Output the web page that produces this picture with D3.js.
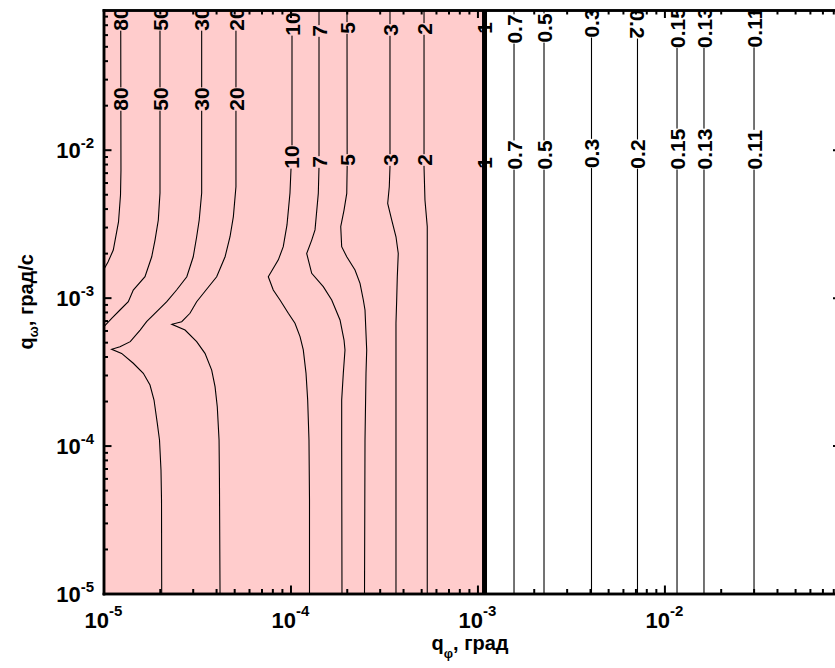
<!DOCTYPE html>
<html>
<head>
<meta charset="utf-8">
<script src="https://cdn.jsdelivr.net/npm/d3@7"></script>
<style>
  body { margin: 0; background: #fff; }
  svg { display: block; }
  text { font-family: "Liberation Sans", Arial, sans-serif; font-weight: bold; fill: #000; }
</style>
</head>
<body>
<div id="chart"></div>
<script>
// Contour lines of the error level over (q_phi, q_omega), both in log scale.
// Each line is a list of [q_phi, q_omega] points, from the top of the plot downwards.
const line80 = [[1.236e-5,0.088],[1.24e-5,7.29e-3],[1.233e-5,4.94e-3],[1.203e-5,3.25e-3],[1.128e-5,2.1e-3],[1.057e-5,1.74e-3],[1.0e-5,1.54e-3]];
const line50 = [[2.005e-5,0.088],[2.005e-5,5.1e-3],[1.964e-5,3.35e-3],[1.886e-5,2.45e-3],[1.811e-5,1.89e-3],[1.667e-5,1.385e-3],[1.443e-5,1.126e-3],[1.357e-5,9.39e-4],[1.225e-5,8.25e-4],[1.106e-5,7.25e-4],[1.0e-5,6.33e-4]];
const line30 = [[3.35e-5,0.088],[3.35e-5,5.1e-3],[3.25e-5,3.35e-3],[3.15e-5,2.58e-3],[3.02e-5,1.89e-3],[2.79e-5,1.385e-3],[2.46e-5,1.126e-3],[2.18e-5,9.39e-4],[2.005e-5,8.47e-4],[1.70e-5,6.88e-4],[1.57e-5,6.04e-4],[1.39e-5,5.04e-4],[1.225e-5,4.66e-4],[1.106e-5,4.475e-4],[1.25e-5,4.2e-4],[1.443e-5,3.6e-4],[1.633e-5,3.08e-4],[1.773e-5,2.567e-4],[1.863e-5,2.033e-4],[1.94e-5,1.414e-4],[1.993e-5,1.091e-4],[2.03e-5,6.84e-5],[2.043e-5,4.29e-5],[2.048e-5,1e-5]];
const line20 = [[5.11e-5,0.088],[5.11e-5,5.62e-3],[4.95e-5,3.53e-3],[4.75e-5,2.58e-3],[4.47e-5,1.89e-3],[4.03e-5,1.385e-3],[3.57e-5,1.144e-3],[3.15e-5,9.39e-4],[2.90e-5,7.84e-4],[2.62e-5,6.88e-4],[2.32e-5,6.6e-4],[2.73e-5,6.04e-4],[3.15e-5,5.04e-4],[3.49e-5,4.2e-4],[3.79e-5,3.24e-4],[3.95e-5,2.5e-4],[4.06e-5,1.83e-4],[4.15e-5,1.09e-4],[4.17e-5,5.85e-5],[4.2e-5,1e-5]];
const line10 = [[1.019e-4,0.088],[1.019e-4,9.95e-3],[1.006e-4,7.29e-3],[9.94e-5,5.1e-3],[9.58e-5,3.1e-3],[9.15e-5,2.21e-3],[8.61e-5,1.8e-3],[7.61e-5,1.385e-3],[8.09e-5,1.126e-3],[8.79e-5,9.64e-4],[9.74e-5,7.84e-4],[1.057e-4,6.71e-4],[1.125e-4,5.45e-4],[1.171e-4,4.43e-4],[1.211e-4,3.08e-4],[1.236e-4,2.03e-4],[1.256e-4,1.09e-4],[1.264e-4,4.29e-5],[1.264e-4,1e-5]];
const line7 = [[1.421e-4,0.088],[1.421e-4,7.64e-3],[1.409e-4,5.07e-3],[1.353e-4,2.87e-3],[1.299e-4,2.45e-3],[1.221e-4,1.99e-3],[1.299e-4,1.46e-3],[1.498e-4,1.186e-3],[1.662e-4,9.64e-4],[1.841e-4,7.06e-4],[1.934e-4,5.17e-4],[1.957e-4,4.43e-4],[1.917e-4,3.08e-4],[1.879e-4,2.03e-4],[1.879e-4,1.09e-4],[1.886e-4,1e-5]];
const line5 = [[2.006e-4,0.088],[2.01e-4,7.64e-3],[2.0e-4,5.07e-3],[1.934e-4,3.91e-3],[1.857e-4,3.02e-3],[1.879e-4,2.21e-3],[2.0e-4,1.89e-3],[2.214e-4,1.538e-3],[2.355e-4,1.25e-3],[2.453e-4,9.64e-4],[2.504e-4,8.25e-4],[2.557e-4,4.43e-4],[2.535e-4,3.08e-4],[2.504e-4,1.09e-4],[2.489e-4,1e-5]];
const line3 = [[3.406e-4,0.088],[3.406e-4,7.64e-3],[3.377e-4,5.62e-3],[3.311e-4,4.34e-3],[3.478e-4,3.35e-3],[3.667e-4,2.58e-3],[3.772e-4,1.99e-3],[3.727e-4,1.385e-3],[3.699e-4,9.64e-4],[3.667e-4,6.71e-4],[3.667e-4,1e-5]];
const line2 = [[5.18e-4,0.088],[5.18e-4,7.64e-3],[5.24e-4,4.57e-3],[5.39e-4,3.02e-3],[5.39e-4,1e-5]];
const line1 = [[1.091e-3,0.088],[1.091e-3,1e-5]];
const line07 = [[1.569e-3,0.088],[1.569e-3,1e-5]];
const line05 = [[2.27e-3,0.088],[2.27e-3,1e-5]];
const line03 = [[4.074e-3,0.088],[4.074e-3,1e-5]];
const line02 = [[7.178e-3,0.088],[7.178e-3,1e-5]];
const line015 = [[1.168e-2,0.088],[1.168e-2,1e-5]];
const line013 = [[1.628e-2,0.088],[1.628e-2,1e-5]];
const line011 = [[3.015e-2,0.088],[3.015e-2,1e-5]];

const levels = ["80","50","30","20","10","7","5","3","2","1","0.7","0.5","0.3","0.2","0.15","0.13","0.11"];
const contourLines = [line80,line50,line30,line20,line10,line7,line5,line3,line2,line1,line07,line05,line03,line02,line015,line013,line011];

// q_omega at which each level's two labels sit
const labelUpperQw = [0.0765,0.0765,0.0765,0.0765,0.0708,0.0635,0.0665,0.0645,0.0655,0.0665,0.0655,0.0665,0.0719,0.0708,0.067,0.067,0.067];
const labelLowerQw = [0.022,0.022,0.022,0.022,8.93e-3,8.26e-3,8.52e-3,8.52e-3,8.52e-3,8.13e-3,9.21e-3,9.21e-3,9.43e-3,9.35e-3,1.011e-2,1.011e-2,1.0e-2];

const axisDomain = [1e-5, 0.088];
const majorTicks = [1e-5, 1e-4, 1e-3, 1e-2];
const tickExponents = ["-5", "-4", "-3", "-2"];
const xTitle = ["q", "φ", ", град"];
const yTitle = ["q", "ω", ", град/с"];

const W = 835, H = 668;
const plotLeft = 103.5, plotRight = 841, plotTop = 10, plotBottom = 593.5;
const pink = "#ffcccc";

const x = d3.scaleLog().domain(axisDomain).range([plotLeft, plotRight]);
const y = d3.scaleLog().domain(axisDomain).range([plotBottom, plotTop]);

const svg = d3.select("#chart").append("svg").attr("width", W).attr("height", H);

svg.append("defs").append("clipPath").attr("id", "plotClip")
  .append("rect").attr("x", plotLeft).attr("y", plotTop)
  .attr("width", plotRight - plotLeft).attr("height", plotBottom - plotTop);

const plot = svg.append("g").attr("clip-path", "url(#plotClip)");

// region where the level exceeds 1
const boundaryQphi = line1[0][0];
plot.append("rect")
  .attr("x", x(axisDomain[0])).attr("y", y(axisDomain[1]))
  .attr("width", x(boundaryQphi) - x(axisDomain[0]))
  .attr("height", y(axisDomain[0]) - y(axisDomain[1]))
  .attr("fill", pink);

const lineGen = d3.line().x(d => x(d[0])).y(d => y(d[1]));

plot.selectAll("path.contour")
  .data(contourLines)
  .join("path")
  .attr("class", "contour")
  .attr("d", lineGen)
  .attr("fill", "none")
  .attr("stroke", "#000")
  .attr("stroke-width", (d, i) => levels[i] === "1" ? 5 : 1.1);

// x position of a contour line at a given screen y
function xAt(pts, py) {
  for (let k = 0; k < pts.length - 1; k++) {
    const y0 = y(pts[k][1]), y1 = y(pts[k + 1][1]);
    if ((py - y0) * (py - y1) <= 0) {
      const x0 = x(pts[k][0]), x1 = x(pts[k + 1][0]);
      const t = y1 === y0 ? 0 : (py - y0) / (y1 - y0);
      return x0 + t * (x1 - x0);
    }
  }
  return x(pts[0][0]);
}

const labelG = plot.append("g");
function addLabel(i, qw, flip) {
  const py = y(qw);
  const px = xAt(contourLines[i], py);
  const g = labelG.append("g").attr("transform", `translate(${px},${py}) rotate(${flip ? 90 : -90})`);
  const rect = g.append("rect");
  const t = g.append("text")
    .attr("text-anchor", "middle")
    .attr("dy", "0.36em")
    .attr("font-size", 21)
    .text(levels[i]);
  if (levels[i] !== "1") {
    const len = t.node().getComputedTextLength();
    rect.attr("x", -len / 2).attr("y", -8).attr("width", len).attr("height", 16)
      .attr("fill", contourLines[i][0][0] < boundaryQphi ? pink : "#fff");
  } else {
    rect.remove();
  }
}
levels.forEach((lv, i) => {
  addLabel(i, labelUpperQw[i], lv === "0.2");
  addLabel(i, labelLowerQw[i], false);
});

// axes: ticks point inwards on all four sides
const allTicks = x.ticks().filter(v => v <= axisDomain[1]);
const minorTicks = allTicks.filter(v => !majorTicks.includes(v));

function drawAxis(axisFn, transform) {
  [[minorTicks, -4.5], [majorTicks, -8]].forEach(([vals, size]) => {
    const g = svg.append("g").attr("transform", transform)
      .call(axisFn.tickValues(vals).tickSize(size).tickSizeOuter(0).tickFormat(""));
    g.select(".domain").attr("stroke", "#000").attr("stroke-width", 2.5).attr("stroke-linecap", "square");
    g.selectAll(".tick line").attr("stroke", "#000").attr("stroke-width", 2);
  });
}
drawAxis(d3.axisBottom(x), `translate(0,${plotBottom})`);
drawAxis(d3.axisTop(x), `translate(0,${plotTop})`);
drawAxis(d3.axisLeft(y), `translate(${plotLeft},0)`);
drawAxis(d3.axisRight(y), `translate(${plotRight},0)`);

// tick labels 10^n
majorTicks.forEach((v, i) => {
  const tb = svg.append("text").attr("x", x(v)).attr("y", 628).attr("text-anchor", "middle").attr("font-size", 22);
  tb.append("tspan").text("10");
  tb.append("tspan").attr("font-size", 15).attr("dy", -12).text(tickExponents[i]);

  const tl = svg.append("text").attr("x", 94).attr("y", y(v) + 8).attr("text-anchor", "end").attr("font-size", 22);
  tl.append("tspan").text("10");
  tl.append("tspan").attr("font-size", 15).attr("dy", -10).text(tickExponents[i]);
});

// axis titles
const xt = svg.append("text").attr("x", 470).attr("y", 650).attr("text-anchor", "middle").attr("font-size", 20);
xt.append("tspan").text(xTitle[0]);
xt.append("tspan").attr("font-size", 13).attr("dy", 8).text(xTitle[1]);
xt.append("tspan").attr("dy", -8).text(xTitle[2]);

const yt = svg.append("text").attr("transform", `translate(33,${(plotTop + plotBottom) / 2}) rotate(-90)`)
  .attr("text-anchor", "middle").attr("font-size", 20);
yt.append("tspan").text(yTitle[0]);
yt.append("tspan").attr("font-size", 13).attr("dy", 5).text(yTitle[1]);
yt.append("tspan").attr("dy", -5).text(yTitle[2]);
</script>
</body>
</html>
